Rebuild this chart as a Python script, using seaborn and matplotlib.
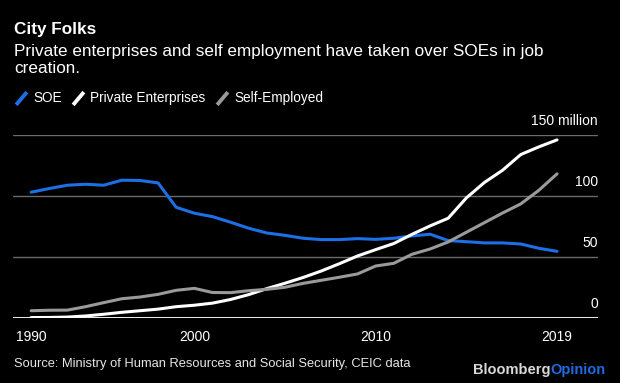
import matplotlib
matplotlib.use("Agg")
import matplotlib.pyplot as plt
import matplotlib.transforms as mtransforms
from matplotlib.lines import Line2D
import seaborn as sns
import pandas as pd

# Urban employment in China, million people (1990-2019)
anos = list(range(1990, 2020))
soe = [103.2, 106.2, 108.9, 109.7, 108.9, 113.0, 112.8, 110.8, 90.8, 86.0,
       83.2, 78.6, 73.7, 69.8, 67.9, 65.5, 64.4, 64.4, 65.2, 64.6,
       65.5, 67.4, 68.8, 63.6, 62.7, 61.7, 61.7, 60.8, 57.3, 54.8]
privada = [0.6, 0.7, 1.0, 1.9, 3.3, 4.9, 6.2, 7.5, 9.5, 10.7,
           12.4, 15.4, 19.4, 24.3, 28.7, 33.4, 38.7, 44.7, 51.0, 56.2,
           61.2, 68.7, 75.6, 81.9, 98.5, 111.2, 121.2, 134.0, 140.3, 146.0]
autonomos = [6.2, 6.6, 6.7, 9.5, 12.8, 16.0, 17.4, 19.6, 22.9, 24.5,
             21.1, 21.0, 22.6, 23.7, 25.4, 28.6, 31.1, 33.6, 36.3, 42.8,
             45.0, 52.4, 56.7, 62.5, 70.4, 78.3, 86.2, 93.6, 104.8, 118.2]

series = ['SOE', 'Private Enterprises', 'Self-Employed']
cores = {'SOE': '#1d6fe5', 'Private Enterprises': '#ffffff', 'Self-Employed': '#9a9a9a'}
ticks_y = [0, 50, 100, 150]
rotulos_y = ['0', '50', '100', '150 million']
rotulos_x = ['1990', '2000', '2010', '2019']

df = pd.DataFrame({'ano': anos, 'SOE': soe,
                   'Private Enterprises': privada, 'Self-Employed': autonomos})
# data points sit at the end of each year
df['x'] = df['ano'] + 1
df_long = df.melt(id_vars=['ano', 'x'], value_vars=series,
                  var_name='serie', value_name='valor')

sns.set_style('dark', {'axes.facecolor': 'black', 'figure.facecolor': 'black'})
plt.rcParams['font.family'] = ['Liberation Sans', 'DejaVu Sans']

fig = plt.figure(figsize=(6.2, 3.83), dpi=100)
fig.patch.set_facecolor('black')
ax = fig.add_axes([13 / 620, 64.7 / 383, 585 / 620, 183.3 / 383])
ax.set_facecolor('black')

sns.lineplot(data=df_long, x='x', y='valor', hue='serie', hue_order=series,
             palette=cores, linewidth=2.2, legend=False, ax=ax)

ax.set_xlim(1990.0, 2022.26)
ax.set_ylim(0, 150)
ax.set_xlabel('')
ax.set_ylabel('')
for s in ax.spines.values():
    s.set_visible(False)

# grid lines + white baseline
ax.set_yticks(ticks_y)
ax.grid(axis='y', color='#6b6b6b', linewidth=1)
ax.grid(axis='x', visible=False)
ax.axhline(0, color='white', linewidth=1.3, zorder=3)
ax.tick_params(axis='y', length=0, labelleft=False)

# y labels above the grid lines, right aligned
trans = mtransforms.blended_transform_factory(ax.transAxes, ax.transData)
for v, lab in zip(ticks_y, rotulos_y):
    ax.annotate(lab, xy=(1.0, v), xycoords=trans, xytext=(0, 10),
                textcoords='offset points', ha='right', va='center',
                color='white', fontsize=10)

pos_x = [df['x'].iloc[0], 2000, 2010, df['x'].iloc[-1]]
ax.set_xticks(pos_x)
ax.set_xticklabels(rotulos_x)
ax.tick_params(axis='x', colors='white', length=3.6, width=0.8,
               labelsize=10, pad=4.5, labelcolor='white')

# titles
fig.text(14 / 620, 1 - 29.3 / 383, 'City Folks', color='white',
         fontsize=12.3, fontweight='bold', va='center', ha='left')
fig.text(14 / 620, 1 - 60 / 383,
         'Private enterprises and self employment have taken over SOEs in job\ncreation.',
         color='white', fontsize=12.3, va='center', ha='left', linespacing=1.17)

# legend with slanted markers
handles = [Line2D([], [], color=cores[s], marker=(2, 0, -40), linestyle='none',
                  markersize=12, markeredgewidth=2.8, markeredgecolor=cores[s])
           for s in series]
fig.legend(handles, series, loc='center left', bbox_to_anchor=(14 / 620, 1 - 98.3 / 383),
           ncol=3, frameon=False, fontsize=9.8, labelcolor='white',
           handlelength=1.0, handletextpad=0.4, columnspacing=0.7,
           borderpad=0, borderaxespad=0)

# footer
fig.text(14 / 620, 1 - 364 / 383,
         'Source: Ministry of Human Resources and Social Security, CEIC data',
         color='#e6e6e6', fontsize=9.3, va='center', ha='left')
fig.text(550 / 620, 1 - 370 / 383, 'Bloomberg', color='#d9d9d9',
         fontsize=10.5, fontweight='bold', va='center', ha='right')
fig.text(550 / 620, 1 - 370 / 383, 'Opinion', color='#1f6be0',
         fontsize=10.5, fontweight='bold', va='center', ha='left')

fig.savefig('out.png', dpi=100, facecolor='black')
